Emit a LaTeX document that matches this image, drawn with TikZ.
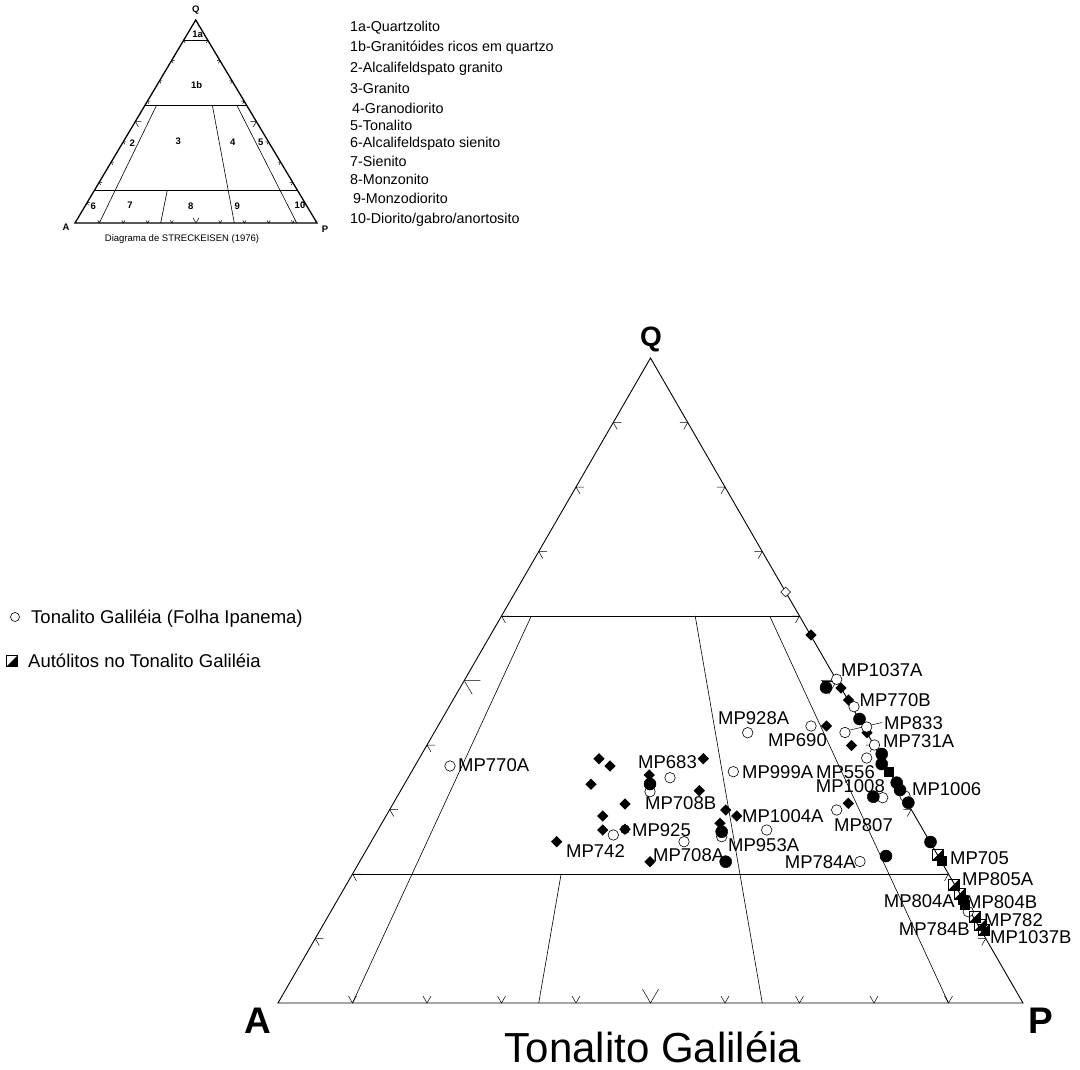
\documentclass[tikz,border=0pt]{standalone}
\usepackage{fontspec}
\setmainfont{Liberation Sans}
\usetikzlibrary{shapes.geometric}
\newcommand\fsz[1]{\fontsize{#1}{#1}\selectfont}
\begin{document}
\begin{tikzpicture}[x=1pt,y=-1pt,
  edge/.style={line width=0.9pt},
  field/.style={line width=0.6pt},
  tk/.style={line width=0.5pt},
  ocirc/.style={circle,draw,fill=white,inner sep=0pt,minimum size=10.5pt,line width=0.6pt},
  fcirc/.style={circle,draw,fill=black,inner sep=0pt,minimum size=12pt,line width=0.5pt},
  fdia/.style={diamond,fill=black,inner sep=0pt,minimum size=11.5pt},
  odia/.style={diamond,draw,fill=white,inner sep=0pt,minimum size=10pt,line width=0.6pt},
  fsq/.style={rectangle,fill=black,inner sep=0pt,minimum size=10pt},
  lab/.style={anchor=west,inner sep=0pt,font=\fsz{18.5}},
  labr/.style={anchor=east,inner sep=0pt,font=\fsz{18.5}},
  ilab/.style={inner sep=0pt,font=\fsz{9.5}\bfseries},
  leg/.style={anchor=base west,inner sep=0pt,font=\fsz{14.3}},
  lead/.style={line width=0.5pt}
]
\useasboundingbox (0,0) rectangle (1080,1070);

% half-filled square marker
\newcommand\hsq[2]{%
  \fill[black] (#1+5.5,#2-5.5) -- (#1+5.5,#2+5.5) -- (#1-5.5,#2+5.5) -- cycle;
  \draw[line width=0.6pt] (#1-5.5,#2-5.5) rectangle (#1+5.5,#2+5.5);}

% ================= INSET =================
\coordinate (iQ) at (195.7,20);
\coordinate (iA) at (75,223);
\coordinate (iP) at (317,223);
\draw[line width=1.3pt] (iA) -- (iQ) -- (iP) -- cycle;
\draw[field] (183.5,40.7) -- (208.1,40.7);
\draw[field] (145.3,105) -- (246.5,105);
\draw[field] (94.8,190) -- (297.3,190);
\draw[field] (156.7,105) -- (99.3,223);
\draw[field] (167.3,190) -- (160.7,223);
\draw[field] (212.3,105) -- (234.3,223);
\draw[field] (236.7,105) -- (296.7,223);
\foreach \k in {1,...,9}{
  \pgfmathsetmacro\L{\k==5 ? 6 : 3}
  \pgfmathsetmacro\lx{75+\k*12.07}
  \pgfmathsetmacro\rx{317-\k*12.13}
  \pgfmathsetmacro\yy{223-\k*20.3}
  \pgfmathsetmacro\bx{75+\k*24.2}
  \draw[tk] (\lx,\yy) -- ++(\L,0) (\lx,\yy) -- ++({0.5*\L},{0.866*\L});
  \draw[tk] (\rx,\yy) -- ++(-\L,0) (\rx,\yy) -- ++({-0.5*\L},{0.866*\L});
  \draw[tk] (\bx,223) -- ++({-0.5*\L},{-0.866*\L}) (\bx,223) -- ++({0.5*\L},{-0.866*\L});
}
\node[ilab] (iq) at (195.7,10) {Q};
\node[ilab] (ia) at (66,227) {A};
\node[ilab] (ip) at (325,229) {P};
\node[ilab] (i1a) at (197.7,34) {1a};
\node[ilab] (i1b) at (196.7,85) {1b};
\node[ilab] (i2) at (132.3,142.7) {2};
\node[ilab] (i3) at (178.3,141.7) {3};
\node[ilab] (i4) at (232.7,142.7) {4};
\node[ilab] (i5) at (260.7,142.7) {5};
\node[ilab] (i6) at (93.3,206) {6};
\node[ilab] (i7) at (130,205) {7};
\node[ilab] (i8) at (190.7,206) {8};
\node[ilab] (i9) at (237.3,206) {9};
\node[ilab] (i10) at (300,205) {10};
\node[inner sep=0pt,font=\fsz{9.5}] (icap) at (182,239) {Diagrama de STRECKEISEN (1976)};

\node[leg] (l1) at (350,31.5) {1a-Quartzolito};
\node[leg] (l2) at (350,51.5) {1b-Granitóides ricos em quartzo};
\node[leg] (l3) at (350,73) {2-Alcalifeldspato granito};
\node[leg] (l4) at (350,94) {3-Granito};
\node[leg] (l5) at (352,114) {4-Granodiorito};
\node[leg] (l6) at (350,130.8) {5-Tonalito};
\node[leg] (l7) at (350,148) {6-Alcalifeldspato sienito};
\node[leg] (l8) at (350,166.5) {7-Sienito};
\node[leg] (l9) at (350,184.8) {8-Monzonito};
\node[leg] (l10) at (353,203.8) {9-Monzodiorito};
\node[leg] (l11) at (350,223) {10-Diorito/gabro/anortosito};

% ================= LEGEND =================
\node[ocirc,minimum size=9pt] (lg1) at (15,617) {};
\node[anchor=base west,inner sep=0pt,font=\fsz{18.5}] (lt1) at (31,623.5) {Tonalito Galiléia (Folha Ipanema)};
\hsq{12}{661}
\node[anchor=base west,inner sep=0pt,font=\fsz{18.5}] (lt2) at (28,667.5) {Autólitos no Tonalito Galiléia};

% ================= MAIN TRIANGLE =================
\coordinate (A) at (278,1003);
\coordinate (P) at (1023,1003);
\coordinate (Q) at (650.5,358);
\draw[edge] (A) -- (Q) -- (P) -- cycle;
\draw[field] (501.5,616) -- (799.5,616);
\draw[field] (352.5,874) -- (948.5,874);
\draw[field] (531.3,616) -- (352.5,1003);
\draw[field] (561.1,874) -- (538.75,1003);
\draw[field] (695.2,616) -- (762.25,1003);
\draw[field] (769.7,616) -- (948.5,1003);
\foreach \k in {1,...,9}{
  \pgfmathsetmacro\L{\k==5 ? 16 : 8}
  \pgfmathsetmacro\lx{278+\k*37.25}
  \pgfmathsetmacro\rx{1023-\k*37.25}
  \pgfmathsetmacro\yy{1003-\k*64.5}
  \pgfmathsetmacro\bx{278+\k*74.5}
  \draw[tk] (\lx,\yy) -- ++(\L,0) (\lx,\yy) -- ++({0.5*\L},{0.866*\L});
  \draw[tk] (\rx,\yy) -- ++(-\L,0) (\rx,\yy) -- ++({-0.5*\L},{0.866*\L});
  \draw[tk] (\bx,1003) -- ++({-0.5*\L},{-0.866*\L}) (\bx,1003) -- ++({0.5*\L},{-0.866*\L});
}
\node[inner sep=0pt,font=\fsz{28}\bfseries] (lq) at (651,339) {Q};
\node[inner sep=0pt,font=\fsz{37}\bfseries] (la) at (258,1021) {A};
\node[inner sep=0pt,font=\fsz{37}\bfseries] (lp) at (1041,1021) {P};
\node[inner sep=0pt,font=\fsz{42}] (title) at (653,1047) {Tonalito Galiléia};

% leader lines
\draw[lead] (822,681) -- (836,681);
\draw[lead] (850,730) -- (882,722.5);
\draw[lead] (869,746) -- (877,746);

% ---------- diamonds ----------
\foreach \p in {(811,635),(841,688),(848.5,700),(826.5,726),(867,732.7),(851.5,745.5),(848.3,803.3),
  (599,758.7),(610,766),(703.3,758.7),(591,784.3),(649.3,775),(699.3,790.7),(625,804),(602.7,816),
  (602.7,830),(556.7,841.7),(725.7,810),(736.7,816),(720,823.3),(650,861.7),(625,829.3)}
  \node[fdia] at \p {};
\node[odia] at (785.6,592) {};
% ---------- open circles ----------
\foreach \p in {(450,766),(747.7,732.7),(670,777.7),(650,791.7),(733.3,771.7),(766.7,830),(721.7,836.7),
  (684,841.7),(613.3,835),(836.7,679.3),(854,706.7),(845,732.5),(866.7,727),(874.5,745),(866.7,758),
  (811,726),(905,796),(882.7,797.7),(836.7,810),(860,861.5),(968.3,911.7)}
  \node[ocirc] at \p {};
% ---------- filled circles ----------
\foreach \p in {(826,687.5),(859.5,719),(881.7,754),(881.7,764),(896.7,782.7),(900,790),(908.3,802.7),
  (873.3,796.7),(930.5,842),(886,856),(650,784),(721.7,831.7),(725.7,861.7)}
  \node[fcirc] at \p {};
\node[fcirc,minimum size=9pt] at (625,829.3) {};
% ---------- squares ----------
\foreach \p in {(889.3,771.7),(941.7,861),(963.3,900),(965,905)}
  \node[fsq] at \p {};
\hsq{937.7}{855}
\hsq{953.3}{885}
\hsq{960}{893.3}
\hsq{975}{916.7}
\hsq{980}{925}
\hsq{983.3}{930}

% ---------- labels ----------
\node[lab] (m1) at (841,670) {MP1037A};
\node[lab] (m2) at (859.5,700) {MP770B};
\node[lab] (m3) at (884,723) {MP833};
\node[lab] (m4) at (883,741) {MP731A};
\node[lab] (m5) at (718,718) {MP928A};
\node[lab] (m6) at (768,740) {MP690};
\node[lab] (m7) at (638,762) {MP683};
\node[lab] (m8) at (458,765) {MP770A};
\node[lab] (m9) at (742,772) {MP999A};
\node[labr] (m10) at (875,772) {MP556};
\node[labr] (m11) at (885,786) {MP1008};
\node[lab] (m12) at (912,789) {MP1006};
\node[lab] (m13) at (645,803) {MP708B};
\node[lab] (m14) at (742,816) {MP1004A};
\node[lab] (m15) at (834,825) {MP807};
\node[lab] (m16) at (632,830) {MP925};
\node[lab] (m17) at (728,845) {MP953A};
\node[lab] (m18) at (566,851) {MP742};
\node[lab] (m19) at (653,855) {MP708A};
\node[labr] (m20) at (856,862) {MP784A};
\node[lab] (m21) at (950,858) {MP705};
\node[lab] (m22) at (962,879) {MP805A};
\node[labr] (m23) at (955,901) {MP804A};
\node[lab] (m24) at (966,902) {MP804B};
\node[lab] (m25) at (984,920) {MP782};
\node[labr] (m26) at (970,929) {MP784B};
\node[lab] (m27) at (990,937) {MP1037B};
\end{tikzpicture}
\end{document}
